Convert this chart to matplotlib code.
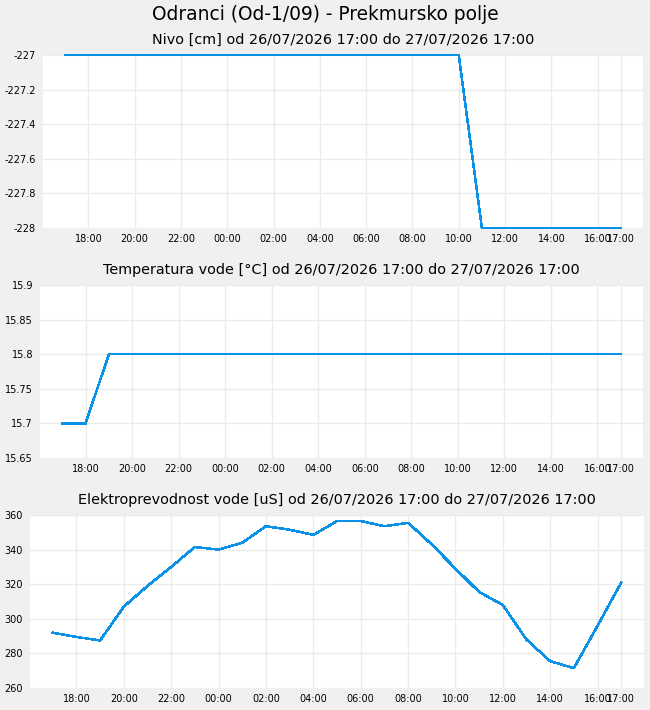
import numpy as np
import pandas as pd
import matplotlib
matplotlib.use("Agg")
from matplotlib import pyplot as plt
import matplotlib.dates as mdates
from matplotlib.ticker import FuncFormatter

# hourly readings, 26/07/2026 17:00 .. 27/07/2026 17:00
times = pd.date_range("2026-07-26 17:00", "2026-07-27 17:00", freq="h")

nivo = [-227, -227, -227, -227, -227, -227, -227, -227, -227, -227,
        -227, -227, -227, -227, -227, -227, -227, -227, -228, -228,
        -228, -228, -228, -228, -228]

temperatura = [15.7, 15.7, 15.8, 15.8, 15.8, 15.8, 15.8, 15.8, 15.8, 15.8,
               15.8, 15.8, 15.8, 15.8, 15.8, 15.8, 15.8, 15.8, 15.8, 15.8,
               15.8, 15.8, 15.8, 15.8, 15.8]

prevodnost = [292, 289.5, 287.5, 307, 319, 330, 341.5, 340, 344, 353.5,
              351.5, 348.5, 356.5, 356.5, 353.5, 355.5, 343, 329, 315.5, 308,
              288, 275.5, 271.5, 296, 321]

titles = ["Nivo [cm] od 26/07/2026 17:00 do 27/07/2026 17:00",
          "Temperatura vode [°C] od 26/07/2026 17:00 do 27/07/2026 17:00",
          "Elektroprevodnost vode [uS] od 26/07/2026 17:00 do 27/07/2026 17:00"]

ylims = [(-228, -227), (15.65, 15.9), (260, 360)]
ysteps = [0.2, 0.05, 20]

W, H = 650, 710
# axes boxes in pixels: left, right, top, bottom
boxes = [(43, 643, 55, 228), (40, 643, 285, 458), (30, 644, 515, 688)]

bg = "#f0f0f0"
line_color = "#0a91e8"
grid_color = "#ebebeb"

fig = plt.figure(figsize=(6.5, 7.1), dpi=100, facecolor=bg)
fig.text(0.5, 1 - 14 / H, "Odranci (Od-1/09) - Prekmursko polje",
         ha="center", va="center", fontsize=13.4)

xticks = list(times[1:-1:2]) + [times[-1]]
span = times[-1] - times[0]
pad = span * 0.04

for i, values in enumerate([nivo, temperatura, prevodnost]):
    l, r, t, b = boxes[i]
    ax = fig.add_axes([l / W, 1 - b / H, (r - l) / W, (b - t) / H])
    ax.set_facecolor("white")
    ax.plot(times, values, color=line_color, lw=1.1, antialiased=False,
            clip_on=False, zorder=3)
    ax.set_xlim(times[0] - pad, times[-1] + pad)
    lo, hi = ylims[i]
    ax.set_ylim(lo, hi)
    ax.set_yticks(np.arange(lo, hi + ysteps[i] / 2, ysteps[i]))
    ax.yaxis.set_major_formatter(FuncFormatter(lambda v, p: "%g" % round(v, 4)))
    ax.set_xticks(xticks)
    ax.xaxis.set_major_formatter(mdates.DateFormatter("%H:%M"))
    ax.grid(True, color=grid_color, lw=1)
    ax.set_axisbelow(True)
    for s in ax.spines.values():
        s.set_visible(False)
    ax.tick_params(length=0, labelsize=7, colors="black")
    ax.tick_params(axis="y", pad=5)
    ax.tick_params(axis="x", pad=4)
    fig.text(((l + r) / 2) / W, 1 - (t - 15) / H, titles[i],
             ha="center", va="center", fontsize=10.4)

fig.savefig("out.png", dpi=100, facecolor=bg)
